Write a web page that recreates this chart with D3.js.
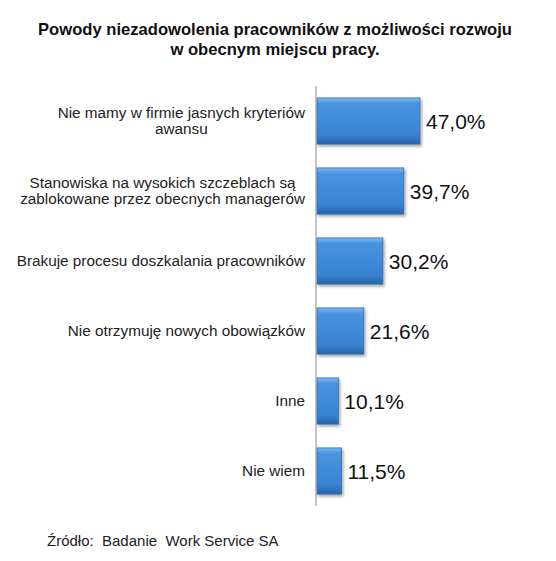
<!DOCTYPE html>
<html>
<head>
<meta charset="utf-8">
<script src="https://cdn.jsdelivr.net/npm/d3@7"></script>
<style>
  body { margin: 0; background: #fff; }
  svg { display: block; font-family: "Liberation Sans", Arial, sans-serif; }
</style>
</head>
<body>
<svg id="chart" width="556" height="561"></svg>
<script>
// data
const categories = [
  ["Nie mamy w firmie jasnych kryteriów", "awansu"],
  ["Stanowiska na wysokich szczeblach są", "zablokowane przez obecnych managerów"],
  ["Brakuje procesu doszkalania pracowników"],
  ["Nie otrzymuję nowych obowiązków"],
  ["Inne"],
  ["Nie wiem"]
];
const values = [47.0, 39.7, 30.2, 21.6, 10.1, 11.5];
const valueLabels = ["47,0%", "39,7%", "30,2%", "21,6%", "10,1%", "11,5%"];
const titleLines = ["Powody niezadowolenia pracowników z możliwości rozwoju", "w obecnym miejscu pracy."];
const source = "Źródło:  Badanie  Work Service SA";

const svg = d3.select('#chart');

const axisX = 316;
const labelRight = 305;
const y = d3.scaleBand()
  .domain(d3.range(values.length))
  .range([86, 506])
  .paddingInner(0.34)
  .paddingOuter(0.17);
const x = d3.scaleLinear().domain([0, 47]).range([axisX, 420]);

// gradient for the bevelled bars
const defs = svg.append('defs');
const grad = defs.append('linearGradient').attr('id', 'barGrad')
  .attr('x1', 0).attr('y1', 0).attr('x2', 0).attr('y2', 1);
grad.append('stop').attr('offset', '0%').attr('stop-color', '#7db9f0');
grad.append('stop').attr('offset', '12%').attr('stop-color', '#4a93e0');
grad.append('stop').attr('offset', '80%').attr('stop-color', '#3a82d4');
grad.append('stop').attr('offset', '100%').attr('stop-color', '#2b63a8');

const shadow = defs.append('filter').attr('id', 'shadow')
  .attr('x', '-10%').attr('y', '-10%').attr('width', '130%').attr('height', '130%');
shadow.append('feDropShadow').attr('dx', 1.5).attr('dy', 2).attr('stdDeviation', 1.5)
  .attr('flood-color', '#000').attr('flood-opacity', 0.35);

// title
svg.append('g').selectAll('text')
  .data(titleLines)
  .enter().append('text')
  .attr('x', 275)
  .attr('y', (d, i) => 35 + i * 20)
  .attr('text-anchor', 'middle')
  .attr('font-size', 16.6)
  .attr('font-weight', 'bold')
  .attr('fill', '#111')
  .text(d => d);

// bars
svg.append('g').selectAll('rect')
  .data(values)
  .enter().append('rect')
  .attr('x', axisX + 1)
  .attr('y', (d, i) => y(i))
  .attr('width', d => x(d) - axisX - 1)
  .attr('height', y.bandwidth())
  .attr('fill', 'url(#barGrad)')
  .attr('stroke', '#2d6cb8')
  .attr('stroke-width', 0.8)
  .attr('filter', 'url(#shadow)');

// vertical axis line
svg.append('line')
  .attr('x1', axisX).attr('x2', axisX)
  .attr('y1', y.range()[0]).attr('y2', y.range()[1])
  .attr('stroke', '#888').attr('stroke-width', 1);

// category labels, multi-line ones centred on their widest line
const lab = svg.append('g').selectAll('text')
  .data(categories)
  .enter().append('text')
  .attr('font-size', 15.3)
  .attr('fill', '#222');
lab.each(function(lines, i) {
  const cy = y(i) + y.bandwidth() / 2;
  const t = d3.select(this);
  const lh = 16;
  const start = cy - (lines.length - 1) * lh / 2 + 5;
  const spans = lines.map((l, k) => t.append('tspan')
    .attr('y', start + k * lh)
    .text(l));
  if (lines.length > 1) {
    const w = d3.max(spans, s => s.node().getComputedTextLength());
    spans.forEach(s => s.attr('x', labelRight - w / 2).attr('text-anchor', 'middle'));
  } else {
    spans.forEach(s => s.attr('x', labelRight).attr('text-anchor', 'end'));
  }
});

// value labels
svg.append('g').selectAll('text')
  .data(values)
  .enter().append('text')
  .attr('x', d => x(d) + 6)
  .attr('y', (d, i) => y(i) + y.bandwidth() / 2 + 7.5)
  .attr('font-size', 21)
  .attr('fill', '#111')
  .text((d, i) => valueLabels[i]);

// source
svg.append('text')
  .attr('x', 47).attr('y', 546)
  .attr('font-size', 15)
  .attr('fill', '#222')
  .style('white-space', 'pre')
  .text(source);
</script>
</body>
</html>
